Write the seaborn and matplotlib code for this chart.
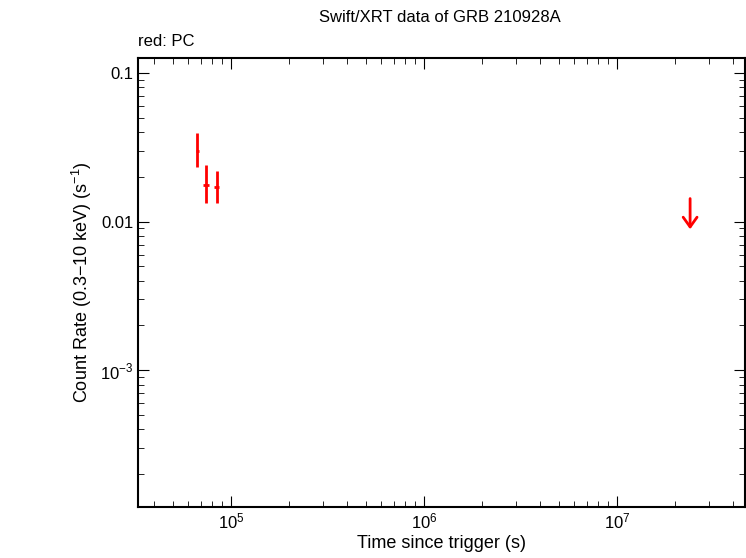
import matplotlib
matplotlib.use("Agg")
import matplotlib.pyplot as plt
import seaborn as sns
import numpy as np

t = [6.7e4, 7.4e4, 8.46e4]
t_lo = [6.6e4, 7.2e4, 8.2e4]
t_hi = [6.8e4, 7.7e4, 8.7e4]
rate = [0.030, 0.0176, 0.0172]
rate_lo = [0.0233, 0.0134, 0.0134]
rate_hi = [0.0395, 0.0239, 0.0218]
ul_t = [2.39e7]
ul_rate = [0.0149]

sns.set_style("ticks")
plt.rcParams['font.family'] = ['Liberation Sans', 'DejaVu Sans']
plt.rcParams['text.color'] = 'black'
plt.rcParams['axes.labelcolor'] = 'black'
plt.rcParams['xtick.color'] = 'black'
plt.rcParams['ytick.color'] = 'black'
plt.rcParams['mathtext.fontset'] = 'custom'
plt.rcParams['mathtext.rm'] = 'Liberation Sans'
fig = plt.figure(figsize=(7.46, 5.58), dpi=100)
ax = fig.add_axes([138/746, 1-507/558, (745-138)/746, (507-58)/558])
xerr = [np.array(t)-np.array(t_lo), np.array(t_hi)-np.array(t)]
yerr = [np.array(rate)-np.array(rate_lo), np.array(rate_hi)-np.array(rate)]
ax.errorbar(t, rate, xerr=xerr, yerr=yerr, fmt='none', ecolor='red', elinewidth=2)
ax.annotate('', xy=(ul_t[0], ul_rate[0]*0.57), xytext=(ul_t[0], ul_rate[0]),
            arrowprops=dict(arrowstyle='->,head_width=0.5,head_length=0.7', color='red', lw=2))
ax.set_xscale('log'); ax.set_yscale('log')
ax.set_xlim(3.3e4, 4.6e7); ax.set_ylim(1.2e-4, 0.126)
ax.set_yticks([1e-3, 0.01, 0.1]); ax.set_yticklabels(['$10^{-3}$', '0.01', '0.1'])
ax.tick_params(which='both', direction='in', top=True, right=True, labelsize=12)
ax.tick_params(which='major', length=8); ax.tick_params(which='minor', length=4)
for s in ax.spines.values():
    s.set_linewidth(1.5); s.set_color('black')
ax.set_xlabel('Time since trigger (s)', fontsize=13, labelpad=2)
ax.set_ylabel('Count Rate (0.3$-$10 keV) (s$^{-1}$)', fontsize=13)
fig.text(440/746, 1-18/558, 'Swift/XRT data of GRB 210928A', ha='center', va='center', fontsize=12)
fig.text(138/746, 1-42/558, 'red: PC', ha='left', va='center', fontsize=12)
fig.savefig('out.png', dpi=100)
